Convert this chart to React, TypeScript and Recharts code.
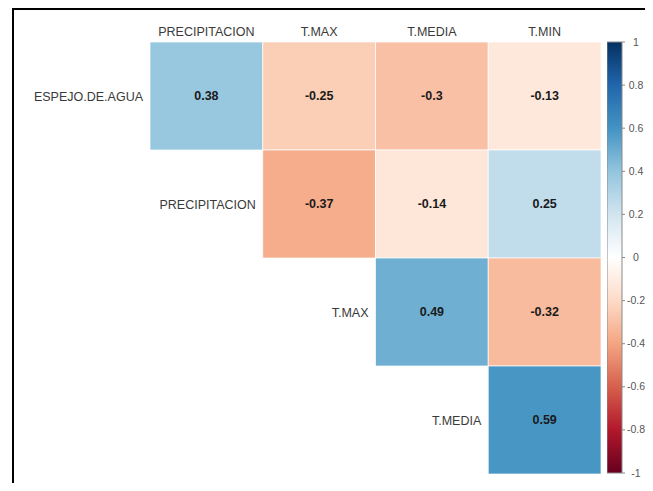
import { ScatterChart, Scatter, XAxis, YAxis, ReferenceArea, BarChart, Bar } from "recharts";

// variables shown along the top (columns) and down the diagonal (rows)
const COL_VARS = ["PRECIPITACION", "T.MAX", "T.MEDIA", "T.MIN"];
const ROW_VARS = ["ESPEJO.DE.AGUA", "PRECIPITACION", "T.MAX", "T.MEDIA"];

// upper triangle of the correlation matrix, row by row (null = not drawn)
const ROW_ESPEJO = [0.38, -0.25, -0.3, -0.13];
const ROW_PRECIP = [null, -0.37, -0.14, 0.25];
const ROW_TMAX = [null, null, 0.49, -0.32];
const ROW_TMEDIA = [null, null, null, 0.59];
const CORR: (number | null)[][] = [ROW_ESPEJO, ROW_PRECIP, ROW_TMAX, ROW_TMEDIA];

const LEGEND_TICKS = [-1, -0.8, -0.6, -0.4, -0.2, 0, 0.2, 0.4, 0.6, 0.8, 1];

// RdBu ramp, from -1 to 1
const PALETTE = [
  "#67001F", "#B2182B", "#D6604D", "#F4A582", "#FDDBC7", "#FFFFFF",
  "#D1E5F0", "#92C5DE", "#4393C3", "#2166AC", "#053061",
];

const FONT = "'Liberation Sans', Arial, sans-serif";
const LABEL_COLOR = "#3a3a3a";

function hexToRgb(h: string) {
  const n = parseInt(h.slice(1), 16);
  return [(n >> 16) & 255, (n >> 8) & 255, n & 255];
}

function corrColor(v: number) {
  const pos = ((v + 1) / 2) * (PALETTE.length - 1);
  const i = Math.min(Math.floor(pos), PALETTE.length - 2);
  const t = pos - i;
  const a = hexToRgb(PALETTE[i]);
  const b = hexToRgb(PALETTE[i + 1]);
  const c = a.map((x, k) => Math.round(x + (b[k] - x) * t));
  return `rgb(${c[0]},${c[1]},${c[2]})`;
}

const rowLabels = ROW_VARS.map((name, i) => ({ x: i, y: i + 0.5, name }));

const cells = CORR.flatMap((row, r) =>
  row.map((v, c) => (v == null ? null : { r, c, v })).filter(Boolean)
) as { r: number; c: number; v: number }[];

const legendBar = [{ name: "scale", range: [-1, 1] }];

function RowLabel(props: any) {
  const { cx, cy, payload } = props;
  return (
    <text x={cx - 7} y={cy} dy={4.5} textAnchor="end" fontSize={12.5} fontFamily={FONT} fill={LABEL_COLOR}>
      {payload.name}
    </text>
  );
}

function LegendTick(props: any) {
  const { x, y, payload } = props;
  return (
    <text x={x + 9} y={y} dy={3.5} textAnchor="middle" fontSize={10.5} fontFamily={FONT} fill="#555">
      {payload.value}
    </text>
  );
}

export default function App() {
  return (
    <div style={{ position: "relative", width: 645, height: 475, overflow: "hidden", background: "#fff" }}>
      <div
        style={{
          position: "absolute", left: 4, top: 0, width: 700, height: 600,
          border: "2px solid #000", boxSizing: "border-box",
        }}
      />
      <div style={{ position: "absolute", left: 0, top: 0 }}>
        <ScatterChart width={600} height={475} margin={{ top: 14, right: 7, bottom: 9, left: 142 }}>
          <XAxis
            type="number" dataKey="x" domain={[0, 4]} orientation="top" height={20}
            ticks={[0.5, 1.5, 2.5, 3.5]}
            tickFormatter={(v) => COL_VARS[Math.floor(v)]}
            tickLine={false} axisLine={false} tickSize={0} tickMargin={6}
            tick={{ fontSize: 12.5, fontFamily: FONT, fill: LABEL_COLOR }}
            interval={0}
          />
          <YAxis type="number" dataKey="y" domain={[0, 4]} reversed hide />
          {cells.map((d) => (
            <ReferenceArea
              key={`${d.r}-${d.c}`}
              x1={d.c} x2={d.c + 1} y1={d.r} y2={d.r + 1}
              fill={corrColor(d.v)} fillOpacity={1}
              stroke="#ffffff" strokeOpacity={0.7} strokeWidth={1}
              label={{
                value: String(d.v), position: "center", fill: "#1a1a1a",
                fontSize: 12.5, fontWeight: "bold", fontFamily: FONT,
              }}
            />
          ))}
          <Scatter data={rowLabels} shape={RowLabel} isAnimationActive={false} />
        </ScatterChart>
      </div>
      <div style={{ position: "absolute", left: 599, top: 0 }}>
        <BarChart
          width={75} height={475} data={legendBar}
          margin={{ top: 34, right: 0, bottom: 10, left: 0 }}
          barCategoryGap={0}
          style={{ overflow: "visible" }}
        >
          <defs>
            <linearGradient id="corrRamp" x1="0" y1="1" x2="0" y2="0">
              {PALETTE.map((c, i) => (
                <stop key={i} offset={`${(i / (PALETTE.length - 1)) * 100}%`} stopColor={c} />
              ))}
            </linearGradient>
          </defs>
          <XAxis dataKey="name" hide />
          <YAxis
            orientation="right" width={60} domain={[-1, 1]} ticks={LEGEND_TICKS}
            interval={0} axisLine={false} tickSize={3} tickMargin={2}
            tickLine={{ stroke: "#888" }} tick={LegendTick}
          />
          <Bar dataKey="range" fill="url(#corrRamp)" stroke="#8a8a8a" strokeWidth={1} isAnimationActive={false} />
        </BarChart>
      </div>
    </div>
  );
}
